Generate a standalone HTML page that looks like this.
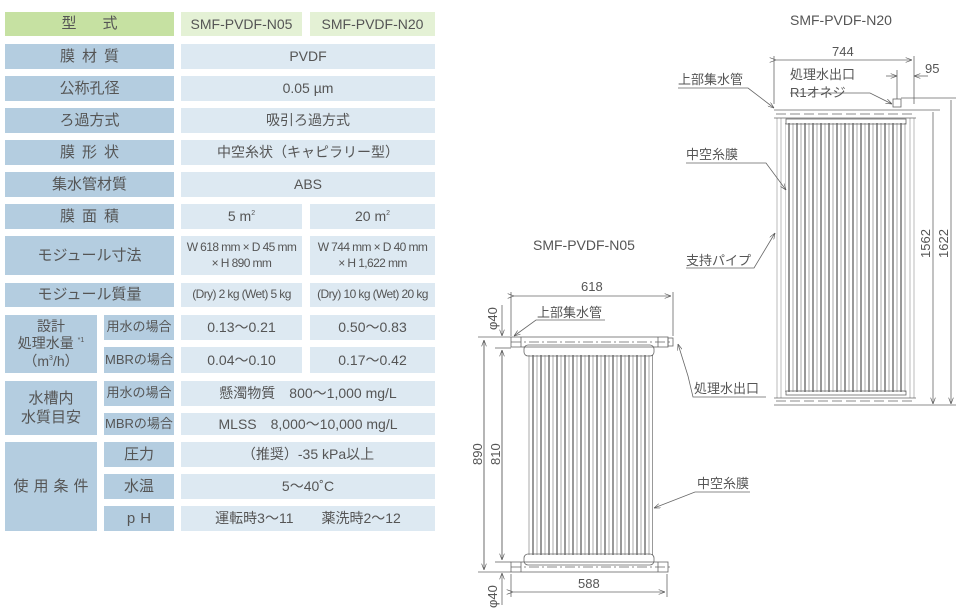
<!DOCTYPE html>
<html><head><meta charset="utf-8"><style>
body{margin:0;width:960px;height:615px;background:#fff;position:relative;overflow:hidden;font-family:"Liberation Sans","Noto Sans CJK JP",sans-serif;color:#555}
.c{position:absolute;display:flex;align-items:center;justify-content:center;text-align:center;box-sizing:border-box;line-height:1.3}
.l{background:#b4cde0;font-size:15px;color:#555}
.v{background:#dde9f2;font-size:14px}
.s{font-size:12px;letter-spacing:-0.6px}
sup{font-size:7px;vertical-align:6px;line-height:0}
svg{position:absolute;left:0;top:0}
</style></head><body>
<div class="c" style="left:5px;top:12px;width:169px;height:24px;background:#c6e1a2;font-size:15px;letter-spacing:26px;padding-left:26px">型式</div>
<div class="c" style="left:181px;top:12px;width:121px;height:24px;background:#e4f1d5;font-size:14px">SMF-PVDF-N05</div>
<div class="c" style="left:310px;top:12px;width:125px;height:24px;background:#e4f1d5;font-size:14px">SMF-PVDF-N20</div>

<div class="c l" style="left:5px;top:44px;width:169px;height:25px;letter-spacing:7px;padding-left:7px">膜材質</div>
<div class="c v" style="left:181px;top:44px;width:254px;height:25px">PVDF</div>
<div class="c l" style="left:5px;top:76px;width:169px;height:25px">公称孔径</div>
<div class="c v" style="left:181px;top:76px;width:254px;height:25px">0.05 µm</div>
<div class="c l" style="left:5px;top:108px;width:169px;height:25px">ろ過方式</div>
<div class="c v" style="left:181px;top:108px;width:254px;height:25px">吸引ろ過方式</div>
<div class="c l" style="left:5px;top:140px;width:169px;height:25px;letter-spacing:7px;padding-left:7px">膜形状</div>
<div class="c v" style="left:181px;top:140px;width:254px;height:25px">中空糸状（キャピラリー型）</div>
<div class="c l" style="left:5px;top:172px;width:169px;height:25px">集水管材質</div>
<div class="c v" style="left:181px;top:172px;width:254px;height:25px">ABS</div>
<div class="c l" style="left:5px;top:204px;width:169px;height:25px;letter-spacing:7px;padding-left:7px">膜面積</div>
<div class="c v" style="left:181px;top:204px;width:121px;height:25px"><span>5 m<sup>2</sup></span></div>
<div class="c v" style="left:310px;top:204px;width:125px;height:25px"><span>20 m<sup>2</sup></span></div>
<div class="c l" style="left:5px;top:236px;width:169px;height:39px">モジュール寸法</div>
<div class="c v s" style="left:181px;top:236px;width:121px;height:39px"><div>W 618 mm × D 45 mm<br>× H 890 mm</div></div>
<div class="c v s" style="left:310px;top:236px;width:125px;height:39px"><div>W 744 mm × D 40 mm<br>× H 1,622 mm</div></div>
<div class="c l" style="left:5px;top:283px;width:169px;height:24px">モジュール質量</div>
<div class="c v s" style="left:181px;top:283px;width:121px;height:24px">(Dry) 2 kg (Wet) 5 kg</div>
<div class="c v s" style="left:310px;top:283px;width:125px;height:24px">(Dry) 10 kg (Wet) 20 kg</div>

<div class="c l" style="left:5px;top:315px;width:92px;height:58px;font-size:14px"><div style="line-height:1.25">設計<br>処理水量 <sup>*1</sup><br>（m<sup>3</sup>/h）</div></div>
<div class="c l" style="left:104px;top:315px;width:70px;height:25px;font-size:13px">用水の場合</div>
<div class="c l" style="left:104px;top:347px;width:70px;height:26px;font-size:13px">MBRの場合</div>
<div class="c v" style="left:181px;top:315px;width:121px;height:25px">0.13〜0.21</div>
<div class="c v" style="left:310px;top:315px;width:125px;height:25px">0.50〜0.83</div>
<div class="c v" style="left:181px;top:347px;width:121px;height:26px">0.04〜0.10</div>
<div class="c v" style="left:310px;top:347px;width:125px;height:26px">0.17〜0.42</div>

<div class="c l" style="left:5px;top:381px;width:92px;height:54px"><div>水槽内<br>水質目安</div></div>
<div class="c l" style="left:104px;top:381px;width:70px;height:25px;font-size:13px">用水の場合</div>
<div class="c l" style="left:104px;top:413px;width:70px;height:22px;font-size:13px">MBRの場合</div>
<div class="c v" style="left:181px;top:381px;width:254px;height:25px">懸濁物質　800〜1,000 mg/L</div>
<div class="c v" style="left:181px;top:413px;width:254px;height:22px">MLSS　8,000〜10,000 mg/L</div>

<div class="c l" style="left:5px;top:442px;width:92px;height:89px;letter-spacing:5px;padding-left:5px">使用条件</div>
<div class="c l" style="left:104px;top:442px;width:70px;height:25px">圧力</div>
<div class="c l" style="left:104px;top:474px;width:70px;height:25px">水温</div>
<div class="c l" style="left:104px;top:506px;width:70px;height:25px;letter-spacing:5px;padding-left:5px">pH</div>
<div class="c v" style="left:181px;top:442px;width:254px;height:25px">（推奨）-35 kPa以上</div>
<div class="c v" style="left:181px;top:474px;width:254px;height:25px">5〜40˚C</div>
<div class="c v" style="left:181px;top:506px;width:254px;height:25px">運転時3〜11　　薬洗時2〜12</div>

<svg width="960" height="615" font-family="Liberation Sans, Noto Sans CJK JP, sans-serif" fill="#555">
<defs>
<pattern id="f" width="8" height="10" patternUnits="userSpaceOnUse"><line x1="1" y1="0" x2="1" y2="10" stroke="#aaa" stroke-width="1"/><line x1="5" y1="0" x2="5" y2="10" stroke="#333" stroke-width="1"/></pattern>
<marker id="a" markerWidth="8" markerHeight="6" refX="8" refY="3" orient="auto"><path d="M0,0 L8,3 L0,6" fill="none" stroke="#555" stroke-width="0.8"/></marker>
</defs>
<g stroke="#666" stroke-width="0.8" fill="none">
<!-- N20 -->
<rect x="785" y="123" width="121" height="269" fill="url(#f)" stroke="none"/>
<line x1="777" y1="118" x2="777" y2="398" stroke="#aaa"/><line x1="781" y1="118" x2="781" y2="398" stroke="#aaa"/>
<line x1="910" y1="118" x2="910" y2="398" stroke="#aaa"/><line x1="914" y1="118" x2="914" y2="398" stroke="#aaa"/>
<line x1="774" y1="110" x2="916" y2="110"/><line x1="774" y1="118" x2="916" y2="118"/>
<rect x="786" y="119" width="120" height="5"/>
<line x1="774" y1="398" x2="916" y2="398"/><line x1="774" y1="405" x2="916" y2="405"/>
<rect x="786" y="391" width="120" height="4"/>
<line x1="776" y1="114" x2="914" y2="114" stroke-dasharray="10,4"/>
<line x1="776" y1="401" x2="914" y2="401" stroke-dasharray="10,4"/>
<rect x="893" y="99" width="8" height="8"/>
<line x1="774" y1="104" x2="774" y2="56"/><line x1="914" y1="104" x2="914" y2="56"/>
<line x1="776" y1="60" x2="912" y2="60" marker-end="url(#a)" marker-start="url(#a)"/>
<line x1="897" y1="99" x2="897" y2="70"/>
<line x1="886" y1="76" x2="897" y2="76" marker-end="url(#a)"/><line x1="928" y1="76" x2="914" y2="76" marker-end="url(#a)"/>
<line x1="901" y1="98" x2="956" y2="98"/><line x1="916" y1="110" x2="940" y2="110"/><line x1="916" y1="405" x2="956" y2="405"/>
<line x1="933" y1="112" x2="933" y2="404" marker-end="url(#a)"/>
<line x1="951" y1="100" x2="951" y2="404" marker-end="url(#a)"/>
<polyline points="678,88 748,88 774,108" marker-end="url(#a)"/>
<polyline points="790,93 870,93 892,104" marker-end="url(#a)"/>
<polyline points="686,163 766,163 786,190" marker-end="url(#a)"/>
<polyline points="686,268 754,268 775,233" marker-end="url(#a)"/>
<!-- N05 -->
<rect x="527" y="355" width="126" height="200" fill="url(#f)" stroke="none"/>
<rect x="511" y="337" width="157" height="10"/>
<rect x="524" y="345" width="130" height="11" rx="4"/>
<line x1="511" y1="342" x2="670" y2="342" stroke-dasharray="10,3,2,3"/>
<line x1="521" y1="337" x2="521" y2="347"/><line x1="658" y1="337" x2="658" y2="347"/>
<rect x="668" y="338" width="5" height="8"/>
<rect x="524" y="554" width="130" height="11" rx="4"/>
<rect x="511" y="562" width="157" height="10"/>
<line x1="511" y1="567" x2="670" y2="567" stroke-dasharray="10,3,2,3"/>
<line x1="521" y1="562" x2="521" y2="572"/><line x1="658" y1="562" x2="658" y2="572"/>
<line x1="511" y1="336" x2="511" y2="292"/><line x1="673" y1="336" x2="673" y2="292"/>
<line x1="514" y1="296" x2="671" y2="296" marker-end="url(#a)" marker-start="url(#a)"/>
<line x1="478" y1="337" x2="511" y2="337"/><line x1="495" y1="348" x2="511" y2="348"/>
<line x1="478" y1="572" x2="511" y2="572"/><line x1="495" y1="562" x2="511" y2="562"/>
<line x1="484" y1="340" x2="484" y2="570" marker-end="url(#a)"/>
<line x1="484" y1="570" x2="484" y2="340" marker-end="url(#a)"/>
<line x1="502" y1="350" x2="502" y2="560" marker-end="url(#a)"/>
<line x1="502" y1="560" x2="502" y2="350" marker-end="url(#a)"/>
<line x1="502" y1="305" x2="502" y2="336" marker-end="url(#a)"/>
<line x1="502" y1="605" x2="502" y2="573" marker-end="url(#a)"/>
<line x1="511" y1="574" x2="511" y2="597"/><line x1="667" y1="574" x2="667" y2="597"/>
<line x1="513" y1="592" x2="665" y2="592" marker-end="url(#a)" marker-start="url(#a)"/>
<polyline points="605,320 536,320 514,336" marker-end="url(#a)"/>
<polyline points="766,397 693,397 688,376 678,344" marker-end="url(#a)"/>
<polyline points="750,492 695,492 654,508" marker-end="url(#a)"/>
</g>
<g font-size="13">
<text x="790" y="25" font-size="14">SMF-PVDF-N20</text>
<text x="533" y="250" font-size="14">SMF-PVDF-N05</text>
<text x="832" y="56">744</text>
<text x="925" y="73">95</text>
<text x="790" y="79">処理水出口</text>
<text x="790" y="97">R1オネジ</text>
<text x="678" y="84">上部集水管</text>
<text x="686" y="159">中空糸膜</text>
<text x="686" y="265">支持パイプ</text>
<text x="694" y="393">処理水出口</text>
<text x="581" y="291">618</text>
<text x="537" y="317">上部集水管</text>
<text x="697" y="488">中空糸膜</text>
<text x="578" y="588">588</text>
<text transform="translate(930,258) rotate(-90)">1562</text>
<text transform="translate(948,258) rotate(-90)">1622</text>
<text transform="translate(482,465) rotate(-90)">890</text>
<text transform="translate(500,465) rotate(-90)">810</text>
<text transform="translate(497,330) rotate(-90)">φ40</text>
<text transform="translate(497,608) rotate(-90)">φ40</text>
</g>
</svg>
</body></html>
